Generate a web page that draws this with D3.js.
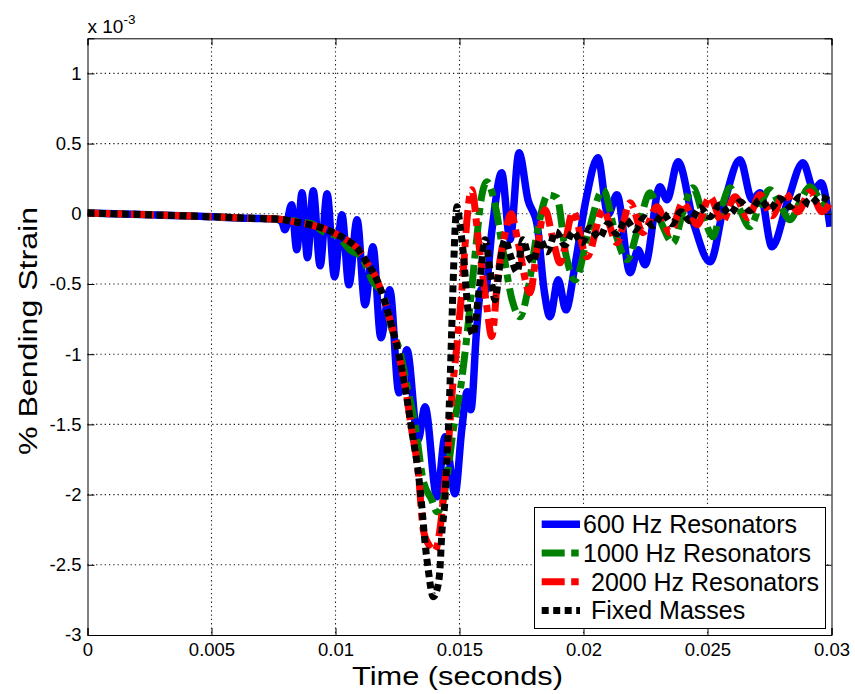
<!DOCTYPE html>
<html>
<head>
<meta charset="utf-8">
<script src="https://cdn.jsdelivr.net/npm/d3@7"></script>
<style>
  body { margin: 0; background: #fff; }
  text { font-family: "Liberation Sans", Arial, Helvetica, sans-serif; fill: #000; }
</style>
</head>
<body>
<svg id="chart" width="855" height="694"></svg>
<script>
// Axis ticks
const xTicks = [0, 0.005, 0.01, 0.015, 0.02, 0.025, 0.03];
const yTicks = [-3, -2.5, -2, -1.5, -1, -0.5, 0, 0.5, 1];

// Series labels (legend order)
const seriesNames = ["600 Hz Resonators", "1000 Hz Resonators", "2000 Hz Resonators", "Fixed Masses"];

// 600 Hz resonators: time (s), bending strain (x 1e-3 %)
const res600Time = [0, 0.00252, 0.00454, 0.00655, 0.00756, 0.00784, 0.00796, 0.00823, 0.00844, 0.00865,
  0.00887, 0.00910, 0.00938, 0.00966, 0.00996, 0.01026, 0.01054, 0.01087, 0.01119, 0.01151,
  0.01183, 0.01219, 0.01256, 0.01288, 0.01333, 0.01361, 0.01409, 0.01442, 0.01482, 0.01509,
  0.01531, 0.01546, 0.01569, 0.01587, 0.01603, 0.01631, 0.01670, 0.01704, 0.01740, 0.01776,
  0.01813, 0.01841, 0.01865, 0.01898, 0.01929, 0.01966, 0.02010, 0.02058, 0.02099, 0.02135,
  0.02188, 0.02220, 0.02248, 0.02308, 0.02337, 0.02381, 0.02446, 0.02510, 0.02571, 0.02631,
  0.02680, 0.02712, 0.02760, 0.02825, 0.02885, 0.02929, 0.02958, 0.02994];
const res600Strain = [0.005, -0.007, -0.018, -0.032, -0.036, -0.057, -0.114, 0.064, -0.256, 0.150,
  -0.313, 0.164, -0.370, 0.142, -0.449, -0.007, -0.506, -0.043, -0.648, -0.235,
  -0.883, -0.541, -1.275, -0.969, -1.610, -1.375, -2.016, -1.588, -1.994, -1.538,
  -1.268, -1.396, -0.826, -0.541, -0.556, -0.114, 0.292, -0.185, 0.434, 0.100,
  -0.078, -0.541, -0.734, -0.470, -0.684, -0.363, 0.100, 0.399, -0.007, 0.135,
  -0.420, -0.256, -0.363, 0.192, 0.100, 0.370, -0.078, -0.342, 0.100, 0.385,
  0.100, 0.150, -0.235, 0.100, 0.363, 0.171, 0.221, -0.093];

// 1000 Hz resonators
const res1000Time = [0, 0.00252, 0.00454, 0.00655, 0.00776, 0.00857, 0.00905, 0.00958, 0.01006, 0.01058,
  0.01107, 0.01151, 0.01192, 0.01228, 0.01260, 0.01292, 0.01321, 0.01353, 0.01388, 0.01409,
  0.01429, 0.01448, 0.01475, 0.01509, 0.01526, 0.01542, 0.01569, 0.01587, 0.01611, 0.01639,
  0.01675, 0.01712, 0.01744, 0.01776, 0.01813, 0.01857, 0.01893, 0.01929, 0.01966, 0.02022,
  0.02079, 0.02127, 0.02175, 0.02224, 0.02268, 0.02317, 0.02361, 0.02401, 0.02441, 0.02482,
  0.02522, 0.02554, 0.02591, 0.02631, 0.02671, 0.02712, 0.02752, 0.02792, 0.02833, 0.02873,
  0.02913, 0.02954, 0.03000];
const res1000Strain = [0.005, -0.007, -0.018, -0.032, -0.039, -0.057, -0.071, -0.135, -0.157, -0.256,
  -0.313, -0.484, -0.577, -0.826, -0.983, -1.254, -1.503, -1.895, -2.037, -2.123,
  -2.073, -1.895, -1.538, -1.182, -0.933, -0.660, -0.185, 0.100, 0.228, 0.100,
  -0.256, -0.613, -0.734, -0.541, -0.135, 0.135, 0.114, -0.292, -0.470, -0.114,
  0.171, -0.128, -0.328, -0.078, 0.150, -0.078, -0.207, 0.014, 0.185, -0.007,
  -0.164, 0.028, 0.185, 0.028, -0.093, 0.064, 0.171, 0.064, -0.043, 0.085,
  0.192, 0.100, 0.007];

// 2000 Hz resonators
const res2000Time = [0, 0.00252, 0.00454, 0.00655, 0.00776, 0.00829, 0.00897, 0.00966, 0.01030, 0.01087,
  0.01127, 0.01167, 0.01192, 0.01220, 0.01248, 0.01287, 0.01307, 0.01334, 0.01354, 0.01377,
  0.01401, 0.01421, 0.01442, 0.01455, 0.01469, 0.01489, 0.01515, 0.01529, 0.01549, 0.01576,
  0.01610, 0.01630, 0.01656, 0.01683, 0.01708, 0.01736, 0.01784, 0.01812, 0.01845, 0.01877,
  0.01905, 0.01958, 0.02014, 0.02079, 0.02135, 0.02188, 0.02240, 0.02296, 0.02349, 0.02401,
  0.02458, 0.02510, 0.02559, 0.02611, 0.02663, 0.02712, 0.02760, 0.02812, 0.02865, 0.02913,
  0.02962, 0.03000];
const res2000Strain = [0.005, -0.007, -0.018, -0.032, -0.039, -0.055, -0.078, -0.114, -0.171, -0.244,
  -0.349, -0.470, -0.589, -0.755, -0.945, -1.301, -1.538, -1.847, -2.250, -2.360,
  -2.400, -2.250, -1.895, -1.657, -1.301, -0.945, -0.420, -0.064, 0.171, -0.185,
  -0.660, -0.874, -0.420, -0.150, 0.000, -0.200, -0.563, -0.256, 0.028, -0.185,
  -0.349, 0.014, -0.306, 0.028, -0.207, 0.078, -0.135, 0.050, -0.135, 0.078,
  -0.078, 0.121, -0.057, 0.121, -0.028, 0.135, -0.014, 0.150, 0.014, 0.157,
  0.014, 0.100];

// Fixed masses
const fixedTime = [0, 0.00252, 0.00454, 0.00655, 0.00776, 0.00829, 0.00897, 0.00966, 0.01030, 0.01087,
  0.01127, 0.01167, 0.01192, 0.01220, 0.01248, 0.01287, 0.01307, 0.01334, 0.01348, 0.01361,
  0.01374, 0.01394, 0.01409, 0.01421, 0.01428, 0.01442, 0.01448, 0.01455, 0.01462, 0.01469,
  0.01476, 0.01483, 0.01490, 0.01502, 0.01514, 0.01534, 0.01554, 0.01579, 0.01603, 0.01623,
  0.01643, 0.01663, 0.01683, 0.01708, 0.01732, 0.01756, 0.01776, 0.01796, 0.01825, 0.01853,
  0.01889, 0.01925, 0.01958, 0.01994, 0.02026, 0.02063, 0.02099, 0.02135, 0.02171, 0.02208,
  0.02244, 0.02280, 0.02321, 0.02357, 0.02393, 0.02429, 0.02470, 0.02510, 0.02550, 0.02591,
  0.02631, 0.02671, 0.02712, 0.02752, 0.02792, 0.02833, 0.02873, 0.02913, 0.02954, 0.03000];
const fixedStrain = [0.005, -0.007, -0.018, -0.032, -0.039, -0.055, -0.078, -0.114, -0.171, -0.244,
  -0.349, -0.470, -0.589, -0.755, -0.945, -1.301, -1.538, -1.847, -2.085, -2.343,
  -2.536, -2.728, -2.678, -2.536, -2.298, -2.014, -1.776, -1.538, -1.200, -0.800,
  -0.400, -0.080, 0.050, -0.078, -0.256, -0.684, -0.862, -0.541, -0.185, -0.399,
  -0.613, -0.363, -0.185, -0.313, -0.413, -0.185, -0.292, -0.342, -0.185, -0.271,
  -0.128, -0.221, -0.128, -0.207, -0.100, -0.171, -0.071, -0.142, -0.043, -0.114,
  -0.028, -0.085, 0.000, -0.071, 0.014, -0.050, 0.043, -0.021, 0.064, 0.000,
  0.085, 0.021, 0.100, 0.036, 0.107, 0.050, 0.121, 0.064, 0.121, 0.078];

const seriesColors = ["#0000ff", "#008000", "#ff0000", "#000000"];
const seriesDash = [null, "23,6.5,7.5,6.5", "23,6.5,7.5,6.5", "7,4.5"];
const seriesWidth = [7.5, 7, 7, 7];

const series = [
  { time: res600Time, strain: res600Strain },
  { time: res1000Time, strain: res1000Strain },
  { time: res2000Time, strain: res2000Strain },
  { time: fixedTime, strain: fixedStrain }
];

const svg = d3.select("#chart");
const plot = { left: 87.5, right: 831.5, top: 38.3, bottom: 635 };

const x = d3.scaleLinear().domain([0, 0.03]).range([plot.left, plot.right]);
const y = d3.scaleLinear().domain([-3, 1.25]).range([plot.bottom, plot.top]);

svg.append("rect").attr("width", 855).attr("height", 694).attr("fill", "#fff");

svg.append("defs").append("clipPath").attr("id", "plotClip")
  .append("rect")
  .attr("x", plot.left).attr("y", plot.top)
  .attr("width", plot.right - plot.left).attr("height", plot.bottom - plot.top);

// Dotted grid
const grid = svg.append("g").attr("stroke", "#222").attr("stroke-width", 1.1)
  .attr("stroke-dasharray", "1.3,3");
grid.selectAll(".gx").data(xTicks.slice(1, -1)).join("line")
  .attr("x1", d => x(d)).attr("x2", d => x(d))
  .attr("y1", plot.top).attr("y2", plot.bottom);
grid.selectAll(".gy").data(yTicks.slice(1)).join("line")
  .attr("x1", plot.left).attr("x2", plot.right)
  .attr("y1", d => y(d)).attr("y2", d => y(d));

// Series curves
const line = d3.line()
  .x(d => x(d[0]))
  .y(d => y(d[1]))
  .curve(d3.curveMonotoneX);

const curves = svg.append("g").attr("clip-path", "url(#plotClip)");
series.forEach((s, k) => {
  const pts = s.time.map((t, i) => [t, s.strain[i]]);
  curves.append("path")
    .datum(pts)
    .attr("d", line)
    .attr("fill", "none")
    .attr("stroke", seriesColors[k])
    .attr("stroke-width", seriesWidth[k])
    .attr("stroke-linejoin", "round")
    .attr("stroke-dasharray", seriesDash[k]);
});

// Axes with inward ticks on all four sides
function styleAxis(g) {
  g.attr("font-family", "Liberation Sans, Arial, sans-serif").attr("font-size", 18.5);
  g.selectAll("path.domain").attr("stroke", "#000").attr("stroke-width", 1);
  g.selectAll(".tick line").attr("stroke", "#000").attr("stroke-width", 1);
  g.selectAll(".tick text").attr("fill", "#000");
}
svg.append("g").attr("transform", `translate(0,${plot.bottom})`)
  .call(d3.axisBottom(x).tickValues(xTicks).tickSize(-7).tickPadding(8)
    .tickFormat(d => String(d)))
  .call(styleAxis);
svg.append("g").attr("transform", `translate(0,${plot.top})`)
  .call(d3.axisTop(x).tickValues(xTicks).tickSize(-7).tickFormat(""))
  .call(styleAxis);
svg.append("g").attr("transform", `translate(${plot.left},0)`)
  .call(d3.axisLeft(y).tickValues(yTicks).tickSize(-7).tickPadding(6)
    .tickFormat(d => String(d)))
  .call(styleAxis);
svg.append("g").attr("transform", `translate(${plot.right},0)`)
  .call(d3.axisRight(y).tickValues(yTicks).tickSize(-7).tickFormat(""))
  .call(styleAxis);

// Exponent label
const expo = svg.append("text").attr("x", plot.left).attr("y", 33).attr("font-size", 19);
expo.append("tspan").text("x 10");
expo.append("tspan").attr("font-size", 13.5).attr("dy", -9).text("-3");

// Axis titles
svg.append("text")
  .attr("x", 457.5).attr("y", 685)
  .attr("text-anchor", "middle").attr("font-size", 25)
  .attr("textLength", 211).attr("lengthAdjust", "spacingAndGlyphs")
  .text("Time (seconds)");
svg.append("text")
  .attr("transform", "translate(37,331) rotate(-90)")
  .attr("text-anchor", "middle").attr("font-size", 25)
  .attr("textLength", 248).attr("lengthAdjust", "spacingAndGlyphs")
  .text("% Bending Strain");

// Legend
const legend = svg.append("g");
legend.append("rect")
  .attr("x", 534.5).attr("y", 507.5).attr("width", 291).attr("height", 121)
  .attr("fill", "#fff").attr("stroke", "#000").attr("stroke-width", 1);
const rowY = [524.3, 553, 581.7, 610.4];
const textX = [583, 583, 591, 591];
seriesNames.forEach((name, k) => {
  legend.append("line")
    .attr("x1", 541.7).attr("x2", 580)
    .attr("y1", rowY[k]).attr("y2", rowY[k])
    .attr("stroke", seriesColors[k])
    .attr("stroke-width", seriesWidth[k])
    .attr("stroke-dasharray", seriesDash[k]);
  legend.append("text")
    .attr("x", textX[k]).attr("y", rowY[k] + 8.8)
    .attr("font-size", 25)
    .text(name);
});
</script>
</body>
</html>
